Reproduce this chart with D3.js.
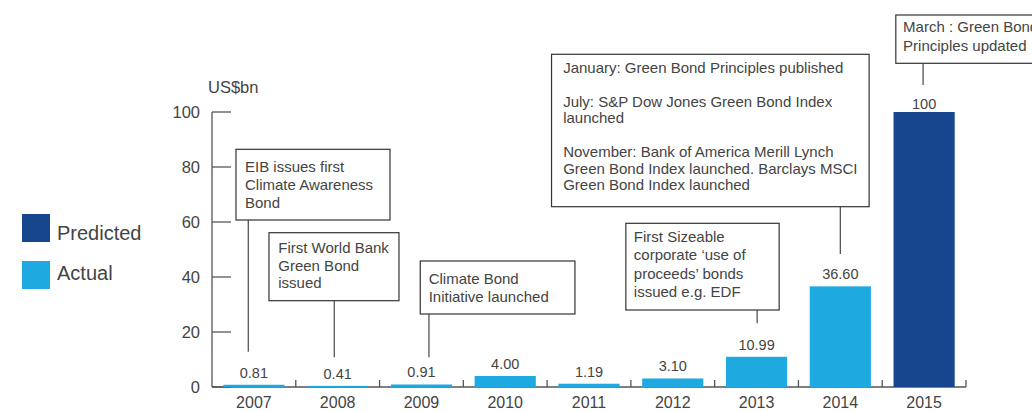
<!DOCTYPE html>
<html>
<head>
<meta charset="utf-8">
<script src="https://cdn.jsdelivr.net/npm/d3@7"></script>
<style>
  html, body { margin: 0; padding: 0; background: #fff; }
  svg { display: block; font-family: "Liberation Sans", Arial, sans-serif; }
</style>
</head>
<body>
<svg id="chart" width="1032" height="411"></svg>
<script>
// ---- data ----
const years = ["2007","2008","2009","2010","2011","2012","2013","2014","2015"];
const values = [0.81, 0.41, 0.91, 4.00, 1.19, 3.10, 10.99, 36.60, 100];
const valueLabels = ["0.81","0.41","0.91","4.00","1.19","3.10","10.99","36.60","100"];
const seriesOf = ["Actual","Actual","Actual","Actual","Actual","Actual","Actual","Actual","Predicted"];
const yTicks = [0, 20, 40, 60, 80, 100];
const legendItems = ["Predicted", "Actual"];
const unitLabel = "US$bn";

const noteYears = ["2007", "2008", "2009", "2013", "2014", "2015"];
const noteTexts = [
  ["EIB issues first", "Climate Awareness", "Bond"],
  ["First World Bank", "Green Bond", "issued"],
  ["Climate Bond", "Initiative launched"],
  ["First Sizeable", "corporate \u2018use of", "proceeds\u2019 bonds", "issued e.g. EDF"],
  ["January: Green Bond Principles published", "", "July: S&P Dow Jones Green Bond Index", "launched", "", "November: Bank of America Merill Lynch", "Green Bond Index launched. Barclays MSCI", "Green Bond Index launched"],
  ["March : Green Bond", "Principles updated"]
];

// ---- layout (annotation boxes, relative to band centre) ----
const noteLayout = [
  {dx: -17.9, y: 149.3, w: 154, h: 70.7, pad: 9, first: 22.4, lh: 18.2, lx: -5.6, ly: 351.7},
  {dx: -68.7, y: 232.7, w: 130, h: 68, pad: 9.3, first: 20, lh: 17.8, lx: -3.4, ly: 357.3},
  {dx: -1.2, y: 261, w: 154.7, h: 53, pad: 8.4, first: 23.3, lh: 18, lx: 7.5, ly: 357.3},
  {dx: -130.7, y: 223.3, w: 153.3, h: 86.7, pad: 8, first: 18.4, lh: 18.4, lx: 0.6, ly: 323.3},
  {dx: -288.8, y: 54.3, w: 317.6, h: 152.4, pad: 11.6, first: 19, lh: 16.7, lx: 0, ly: 254},
  {dx: -28.3, y: 15, w: 175, h: 48.3, pad: 7.3, first: 17.3, lh: 18.4, lx: -1, ly: 85}
];

const colors = {Actual: "#1ea9e1", Predicted: "#17468f"};
const textColor = "#444";
const lineColor = "#555";

const svg = d3.select("#chart");

const x = d3.scaleBand().domain(years).range([212, 966]).paddingInner(0.27).paddingOuter(0.135);
const y = d3.scaleLinear().domain([0, 100]).range([387, 112]);
const step = x.step();
const center = d => x(d) + x.bandwidth() / 2;

// y axis
const yAxis = svg.append("g");
yAxis.append("line").attr("x1", 212).attr("x2", 212).attr("y1", y(100)).attr("y2", y(0))
  .attr("stroke", lineColor).attr("stroke-width", 1.3);
yAxis.selectAll("line.tick").data(yTicks).join("line").attr("class", "tick")
  .attr("x1", 212).attr("x2", 231).attr("y1", d => y(d)).attr("y2", d => y(d))
  .attr("stroke", lineColor).attr("stroke-width", 1.3);
yAxis.selectAll("text").data(yTicks).join("text")
  .attr("x", 200).attr("y", d => y(d) + 6).attr("text-anchor", "end")
  .attr("font-size", 16.5).attr("fill", textColor).text(d => d);

svg.append("text").attr("x", 208).attr("y", 93).attr("font-size", 16.5)
  .attr("fill", textColor).text(unitLabel);

// x axis
const x0 = x.range()[0];
svg.append("line").attr("x1", 212).attr("x2", x.range()[1]).attr("y1", y(0)).attr("y2", y(0))
  .attr("stroke", lineColor).attr("stroke-width", 1.3);
const boundaries = d3.range(1, years.length + 1).map(i => x0 + i * step);
svg.selectAll("line.xtick").data(boundaries).join("line").attr("class", "xtick")
  .attr("x1", d => d).attr("x2", d => d).attr("y1", y(0)).attr("y2", y(0) - 7)
  .attr("stroke", lineColor).attr("stroke-width", 1.3);
svg.selectAll("text.year").data(years).join("text").attr("class", "year")
  .attr("x", d => center(d)).attr("y", 408).attr("text-anchor", "middle")
  .attr("font-size", 16).attr("fill", textColor).text(d => d);

// bars
svg.selectAll("rect.bar").data(years).join("rect").attr("class", "bar")
  .attr("x", d => x(d)).attr("width", x.bandwidth())
  .attr("y", (d, i) => y(values[i])).attr("height", (d, i) => y(0) - y(values[i]))
  .attr("fill", (d, i) => colors[seriesOf[i]]);

svg.selectAll("text.val").data(years).join("text").attr("class", "val")
  .attr("x", d => center(d)).attr("y", (d, i) => y(values[i]) - (values[i] >= 100 ? 3 : 7))
  .attr("text-anchor", "middle").attr("font-size", 14.5).attr("fill", textColor)
  .text((d, i) => valueLabels[i]);

// annotations
noteYears.forEach((yr, i) => {
  const L = noteLayout[i];
  const c = center(yr);
  const g = svg.append("g");
  g.append("line").attr("x1", c + L.lx).attr("x2", c + L.lx)
    .attr("y1", L.y + L.h).attr("y2", L.ly).attr("stroke", lineColor).attr("stroke-width", 1.3);
  g.append("rect").attr("x", c + L.dx).attr("y", L.y).attr("width", L.w).attr("height", L.h)
    .attr("fill", "#fff").attr("stroke", "#333").attr("stroke-width", 1.2);
  g.selectAll("text").data(noteTexts[i]).join("text")
    .attr("x", c + L.dx + L.pad).attr("y", (d, j) => L.y + L.first + j * L.lh)
    .attr("font-size", 15).attr("fill", textColor).text(d => d);
});

// legend
const leg = svg.append("g");
legendItems.forEach((name, i) => {
  leg.append("rect").attr("x", 22).attr("y", 214 + i * 47).attr("width", 28).attr("height", 28)
    .attr("fill", colors[name]);
  leg.append("text").attr("x", 57).attr("y", 240 + i * 39.5).attr("font-size", 20)
    .attr("fill", textColor).text(name);
});
</script>
</body>
</html>
